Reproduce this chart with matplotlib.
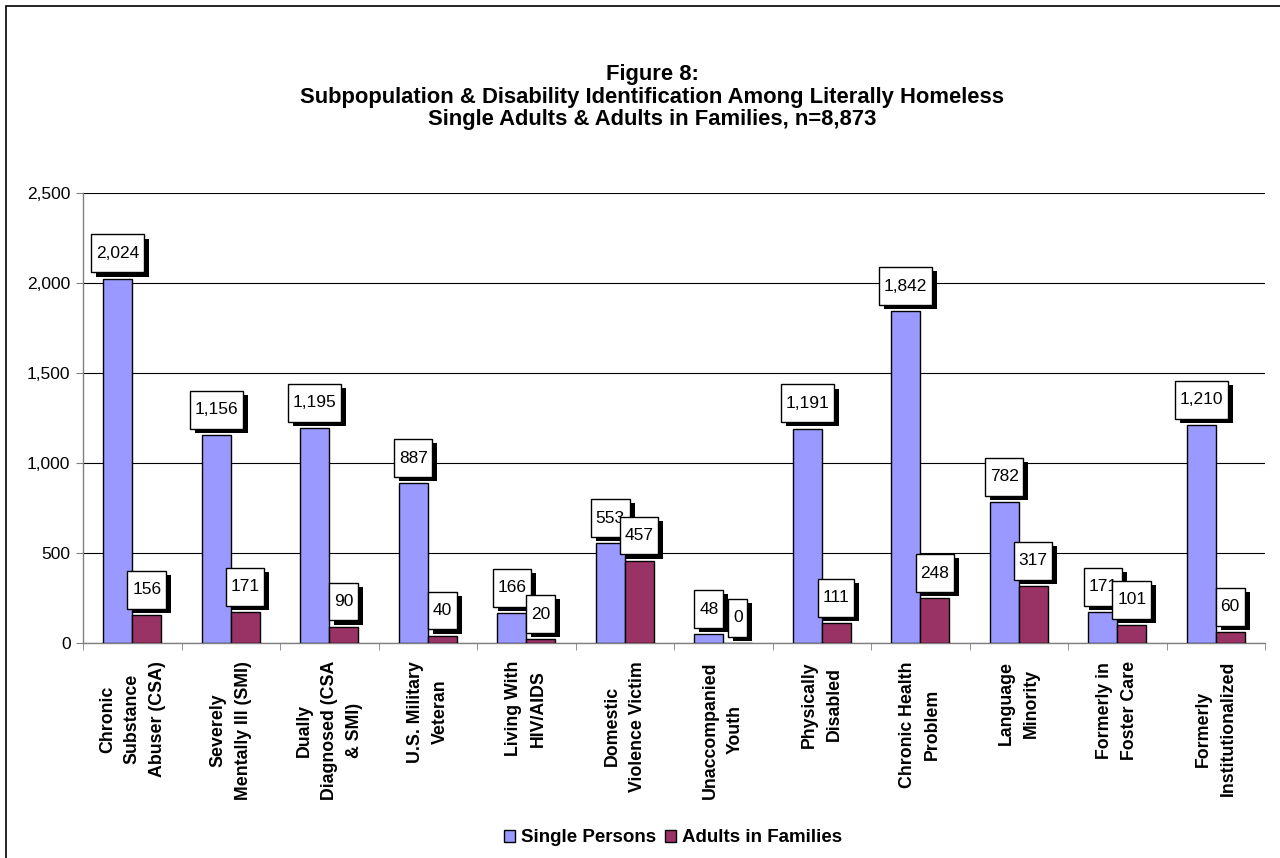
import matplotlib
matplotlib.use("Agg")
import matplotlib.pyplot as plt
import matplotlib.patheffects as pe
from matplotlib.path import Path
from matplotlib.patches import Patch, Rectangle
from matplotlib.ticker import FuncFormatter, MultipleLocator
import numpy as np

plt.rcParams['font.family'] = ['Liberation Sans', 'DejaVu Sans']

categories = ["Chronic\nSubstance\nAbuser (CSA)", "Severely\nMentally Ill (SMI)",
              "Dually\nDiagnosed (CSA\n& SMI)", "U.S. Military\nVeteran",
              "Living With\nHIV/AIDS", "Domestic\nViolence Victim",
              "Unaccompanied\nYouth", "Physically\nDisabled",
              "Chronic Health\nProblem", "Language\nMinority",
              "Formerly in\nFoster Care", "Formerly\nInstitutionalized"]
single_persons = [2024, 1156, 1195, 887, 166, 553, 48, 1191, 1842, 782, 171, 1210]
adults_in_families = [156, 171, 90, 40, 20, 457, 0, 111, 248, 317, 101, 60]

title_lines = ["Figure 8:",
               "Subpopulation & Disability Identification Among Literally Homeless",
               "Single Adults & Adults in Families, n=8,873"]

BLUE = "#9999FF"
RED = "#993366"
GRAY = "#808080"


def label_box(x0, y0, width, height, mutation_size):
    # rectangle with more padding vertically than horizontally (Excel style)
    px = 0.27 * mutation_size
    py = 0.66 * mutation_size
    verts = [(x0 - px, y0 - py), (x0 + width + px, y0 - py),
             (x0 + width + px, y0 + height + py), (x0 - px, y0 + height + py),
             (x0 - px, y0 - py)]
    return Path(verts, closed=True)


fig = plt.figure(figsize=(12.8, 8.58), dpi=100)
ax = fig.add_axes([83 / 1280, 1 - 643 / 858, (1265 - 83) / 1280, (643 - 193) / 858])

x = np.arange(len(categories)) + 0.5
w = 0.294
b1 = ax.bar(x - w / 2, single_persons, w, color=BLUE, edgecolor="black", linewidth=1, zorder=3)
b2 = ax.bar(x + w / 2, adults_in_families, w, color=RED, edgecolor="black", linewidth=1, zorder=3)

for bars, vals in ((b1, single_persons), (b2, adults_in_families)):
    for bar, v in zip(bars, vals):
        t = ax.annotate(f"{v:,}", (bar.get_x() + bar.get_width() / 2, v),
                        xytext=(0, 12.8), textcoords="offset points",
                        ha="center", va="bottom", fontsize=12.5, zorder=5,
                        bbox=dict(boxstyle=label_box, fc="white", ec="black", lw=1))
        t.get_bbox_patch().set_path_effects(
            [pe.withSimplePatchShadow(offset=(3.6, -3.0), shadow_rgbFace="black", alpha=1)])

ax.set_xlim(0, len(categories))
ax.set_ylim(0, 2500)
ax.yaxis.set_major_locator(MultipleLocator(500))
ax.yaxis.set_major_formatter(FuncFormatter(lambda v, p: f"{int(v):,}"))
ax.grid(axis="y", color="black", linewidth=0.8, zorder=0)
ax.set_axisbelow(True)

ax.set_xticks(x)
ax.set_xticklabels(categories, rotation=90, fontsize=12.8, fontweight="bold")
for lab in ax.get_xticklabels():
    lab.set_multialignment("center")
    lab.set_linespacing(1.6)
    lab.set_va("top")
ax.set_xticks(np.arange(len(categories) + 1), minor=True)
ax.tick_params(axis="x", which="major", length=0, pad=13)
ax.tick_params(axis="x", which="minor", length=5, color=GRAY, direction="out")
ax.tick_params(axis="y", length=5, color=GRAY, labelsize=12.5, pad=4)

for s in ("top", "right"):
    ax.spines[s].set_visible(False)
for s in ("left", "bottom"):
    ax.spines[s].set_color(GRAY)
    ax.spines[s].set_linewidth(1)

for line, base in zip(title_lines, (80, 103, 125)):
    fig.text(652 / 1280, 1 - base / 858, line, ha="center", va="baseline",
             fontsize=15.8, fontweight="bold")

handles = [Patch(facecolor=BLUE, edgecolor="black", label="Single Persons"),
           Patch(facecolor=RED, edgecolor="black", label="Adults in Families")]
fig.legend(handles=handles, loc="center", bbox_to_anchor=(673 / 1280, 1 - 838 / 858),
           ncol=2, frameon=False, prop=dict(weight="bold", size=13.5),
           handlelength=0.6, handleheight=0.6, handletextpad=0.3, columnspacing=0.5)

fig.add_artist(Rectangle((6 / 1280, -0.05), 1.1, 1 - 6 / 858 + 0.05, transform=fig.transFigure,
                         fill=False, edgecolor="black", linewidth=1.2))

fig.savefig("out.png", dpi=100)
